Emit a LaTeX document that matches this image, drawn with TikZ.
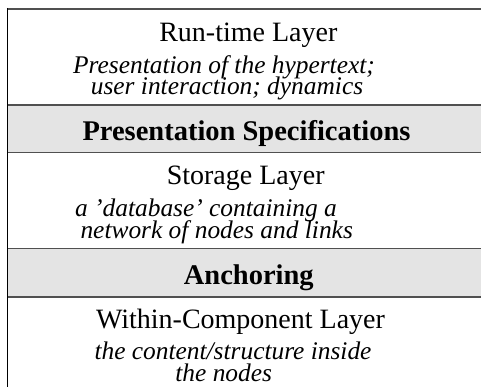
\documentclass[tikz,border=0pt]{standalone}
\usepackage{fontspec}
\setmainfont{Liberation Serif}
\begin{document}
\begin{tikzpicture}[x=1pt,y=-1pt,
  head/.style={anchor=base,inner sep=0pt,font=\fontsize{28}{28}\selectfont},
  bhead/.style={anchor=base,inner sep=0pt,font=\fontsize{28.5}{28.5}\selectfont\bfseries},
  desc/.style={anchor=base,inner sep=0pt,font=\fontsize{25.4}{25.4}\selectfont\itshape},
  band/.style={fill=bandgray,draw=linegray,line width=1.6pt},
  rule/.style={draw=linegray,line width=1.8pt}]
\definecolor{bandgray}{HTML}{E4E4E4}
\definecolor{linegray}{HTML}{505050}
\useasboundingbox (0,0) rectangle (481,387);
\fill[white] (0,0) rectangle (481,387);
% bands
\path[band] (7.5,105) rectangle (482,152.5);
\path[band] (7.5,248.5) rectangle (482,297);
\draw[rule] (6.8,8.8) -- (482,8.8);
\draw[black,line width=1.3pt] (7.4,8) -- (7.4,388);
% texts
\node[head] (rt) at (248.3,41.7) {Run-time Layer};
\node[desc] (rt1) at (224,73.3) {Presentation of the hypertext;};
\node[desc] (rt2) at (227,95) {user interaction; dynamics};
\node[bhead] (ps) at (246.5,140.7) {Presentation Specifications};
\node[head] (st) at (245.7,185) {Storage Layer};
\node[desc] (st1) at (206,216.7) {a 'database' containing a};
\node[desc] (st2) at (216.7,238.3) {network of nodes and links};
\node[bhead] (an) at (248.8,284.3) {Anchoring};
\node[head] (wc) at (240.5,328.3) {Within-Component Layer};
\node[desc] (wc1) at (233,359) {the content/structure inside};
\node[desc] (wc2) at (223.7,381) {the nodes};
\end{tikzpicture}
\end{document}
